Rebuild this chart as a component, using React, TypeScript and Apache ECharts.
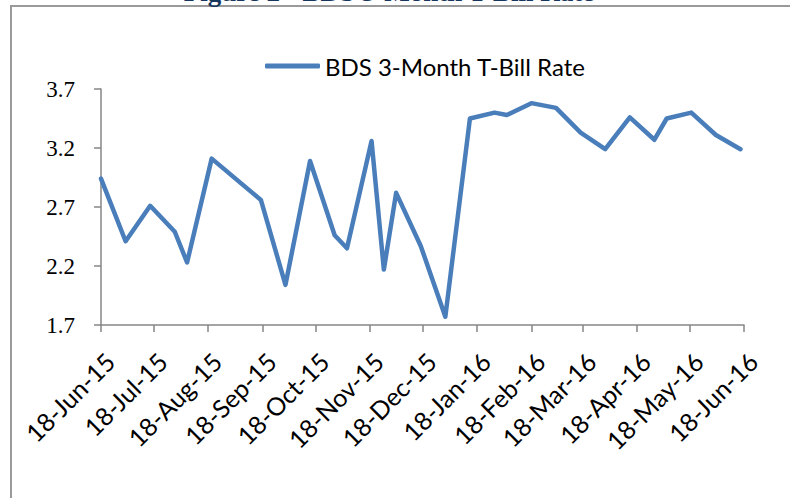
import { useEffect, useRef } from "react";
import * as echarts from "echarts";

const seriesName = "BDS 3-Month T-Bill Rate";
const titleText = "Figure 2 - BDS 3-Month T-Bill Rate";

const dates = [
  "2015-06-18", "2015-07-02", "2015-07-16", "2015-07-30", "2015-08-06",
  "2015-08-20", "2015-09-17", "2015-10-01", "2015-10-15", "2015-10-29",
  "2015-11-05", "2015-11-19", "2015-11-26", "2015-12-03", "2015-12-17",
  "2015-12-31", "2016-01-14", "2016-01-28", "2016-02-04", "2016-02-18",
  "2016-03-03", "2016-03-17", "2016-03-31", "2016-04-14", "2016-04-28",
  "2016-05-05", "2016-05-19", "2016-06-02", "2016-06-16",
];

const rates = [
  2.94, 2.41, 2.71, 2.49, 2.23,
  3.11, 2.76, 2.04, 3.09, 2.46,
  2.35, 3.26, 2.17, 2.82, 2.37,
  1.77, 3.45, 3.5, 3.48, 3.58,
  3.54, 3.33, 3.19, 3.46, 3.27,
  3.45, 3.5, 3.31, 3.19,
];

const xTickDates = [
  "2015-06-18", "2015-07-18", "2015-08-18", "2015-09-18", "2015-10-18",
  "2015-11-18", "2015-12-18", "2016-01-18", "2016-02-18", "2016-03-18",
  "2016-04-18", "2016-05-18", "2016-06-18",
];

const xTickLabels = [
  "18-Jun-15", "18-Jul-15", "18-Aug-15", "18-Sep-15", "18-Oct-15",
  "18-Nov-15", "18-Dec-15", "18-Jan-16", "18-Feb-16", "18-Mar-16",
  "18-Apr-16", "18-May-16", "18-Jun-16",
];

const yTicks = [1.7, 2.2, 2.7, 3.2, 3.7];

const DAY = 86400000;

function utc(s: string): number {
  const [y, m, d] = s.split("-").map(Number);
  return Date.UTC(y, m - 1, d);
}

// days since the first axis date
function dayOf(s: string): number {
  return Math.round((utc(s) - utc(xTickDates[0])) / DAY);
}

export default function App() {
  const ref = useRef<HTMLDivElement>(null);
  useEffect(() => {
    if (!ref.current) return;
    const chart = echarts.init(ref.current, undefined, { renderer: "svg" });
    const xTicks = xTickDates.map(dayOf);
    const axisColor = "#868686";
    chart.setOption({
      animation: false,
      backgroundColor: "#ffffff",
      graphic: [
        {
          type: "rect",
          silent: true,
          z: -10,
          shape: { x: 11, y: 6, width: 900, height: 700 },
          style: { fill: "none", stroke: "#9a9a9a", lineWidth: 2 },
        },
        {
          type: "text",
          x: 389,
          y: 5,
          silent: true,
          style: {
            text: titleText,
            font: 'bold 27px "Liberation Serif"',
            fill: "#17365D",
            align: "center",
            verticalAlign: "bottom",
          },
        },
      ],
      legend: {
        data: [seriesName],
        left: 265,
        top: 54,
        padding: 0,
        icon: "roundRect",
        itemWidth: 55,
        itemHeight: 5,
        textStyle: { fontFamily: "Lato", fontSize: 24, color: "#000" },
      },
      grid: { left: 101, right: 46, top: 89, bottom: 173 },
      xAxis: {
        type: "value",
        min: xTicks[0],
        max: xTicks[xTicks.length - 1],
        splitLine: { show: false },
        axisLine: { show: true, lineStyle: { color: axisColor, width: 1.5 } },
        axisTick: { show: true, customValues: xTicks, length: 7, lineStyle: { color: axisColor, width: 1.5 } },
        axisLabel: {
          customValues: xTicks,
          formatter: (v: number) => {
            const i = xTicks.indexOf(Math.round(v));
            return i >= 0 ? xTickLabels[i] : "";
          },
          rotate: 45,
          verticalAlign: "top",
          fontFamily: "Lato",
          fontSize: 25,
          color: "#000",
          margin: 23,
          hideOverlap: false,
        },
      },
      yAxis: {
        type: "value",
        min: 1.7,
        max: 3.7,
        splitLine: { show: false },
        axisLine: { show: true, lineStyle: { color: axisColor, width: 1.5 } },
        axisTick: { show: true, customValues: yTicks, length: 7, lineStyle: { color: axisColor, width: 1.5 } },
        axisLabel: {
          customValues: yTicks,
          formatter: (v: number) => v.toFixed(1),
          fontFamily: "Liberation Serif",
          fontSize: 23,
          color: "#000",
          margin: 26,
        },
      },
      series: [
        {
          type: "line",
          name: seriesName,
          data: dates.map((d, i) => [dayOf(d), rates[i]]),
          showSymbol: false,
          symbol: "none",
          lineStyle: { color: "#4A7EBB", width: 4.5, cap: "round", join: "round" },
          itemStyle: { color: "#4A7EBB" },
        },
      ],
    });
    return () => chart.dispose();
  }, []);
  return (
    <div
      ref={ref}
      style={{ position: "fixed", left: 0, top: 0, width: 790, height: 498 }}
    />
  );
}
